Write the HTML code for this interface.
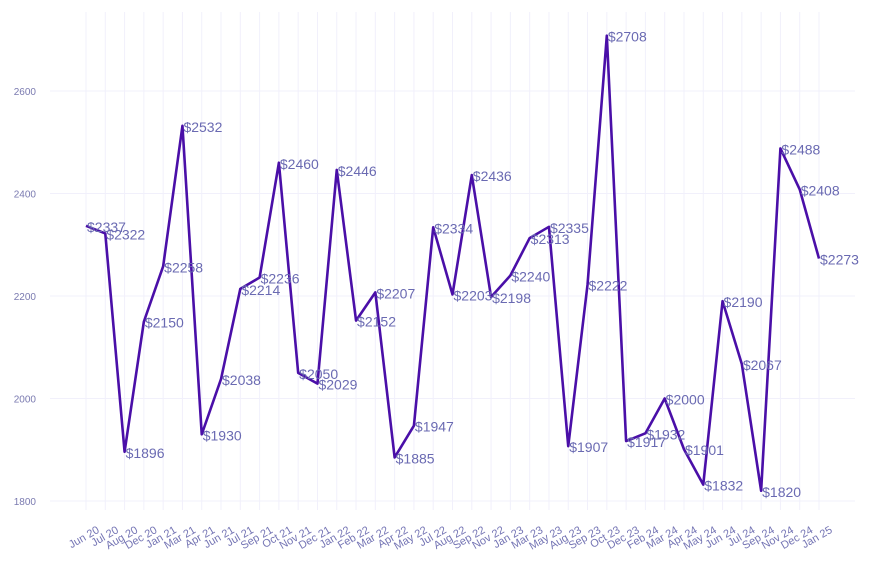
<!DOCTYPE html>
<html><head><meta charset="utf-8"><style>
body{margin:0;background:#fff;font-family:"Liberation Sans",sans-serif}
</style></head><body>
<svg id="chart" width="873" height="565" xmlns="http://www.w3.org/2000/svg"></svg>
<script>
const categories=["Jun 20","Jul 20","Aug 20","Dec 20","Jan 21","Mar 21","Apr 21","Jun 21","Jul 21","Sep 21","Oct 21","Nov 21","Dec 21","Jan 22","Feb 22","Mar 22","Apr 22","May 22","Jul 22","Aug 22","Sep 22","Nov 22","Jan 23","Mar 23","May 23","Aug 23","Sep 23","Oct 23","Dec 23","Feb 24","Mar 24","Apr 24","May 24","Jun 24","Jul 24","Sep 24","Nov 24","Dec 24","Jan 25"];
const values=[2337,2322,1896,2150,2258,2532,1930,2038,2214,2236,2460,2050,2029,2446,2152,2207,1885,1947,2334,2203,2436,2198,2240,2313,2335,1907,2222,2708,1917,1932,2000,1901,1832,2190,2067,1820,2488,2408,2273];
const yTicks=[1800,2000,2200,2400,2600];
const NS="http://www.w3.org/2000/svg";
const svg=document.getElementById('chart');
const x0=86,x1=819;
function xs(i){return x0+(x1-x0)*i/(categories.length-1);}
function ys(v){return 501-(v-1800)*0.5125;}
function mk(t,a,p){const e=document.createElementNS(NS,t);for(const k in a)e.setAttribute(k,a[k]);(p||svg).appendChild(e);return e;}
const grid=mk('g',{});


categories.forEach((c,i)=>{mk('line',{x1:xs(i),x2:xs(i),y1:12,y2:510,stroke:'#f1f0fb','stroke-width':1},grid);});
yTicks.forEach(t=>{mk('line',{x1:50,x2:855,y1:ys(t),y2:ys(t),stroke:'#f1f0fb','stroke-width':1},grid);
const tx=mk('text',{x:36,y:ys(t)+4,'text-anchor':'end','font-size':10,fill:'#7a7ab0'});tx.textContent=t;

});
categories.forEach((c,i)=>{const X=xs(i)+14,Y=532;
const t=mk('text',{x:X,y:Y,'text-anchor':'end','font-size':11,fill:'#7474b4',transform:`rotate(-30 ${X} ${Y})`});t.textContent=c;

});
const p=mk('polyline',{points:values.map((v,i)=>xs(i)+','+ys(v)).join(' '),fill:'none',stroke:'#4a0fa8','stroke-width':2.6,'stroke-linejoin':'round'});


values.forEach((v,i)=>{const t=mk('text',{x:xs(i)+1,y:ys(v)+6,'font-size':14,fill:'#6a6ab2'});t.textContent='$'+v;

});
</script>
</body></html>
